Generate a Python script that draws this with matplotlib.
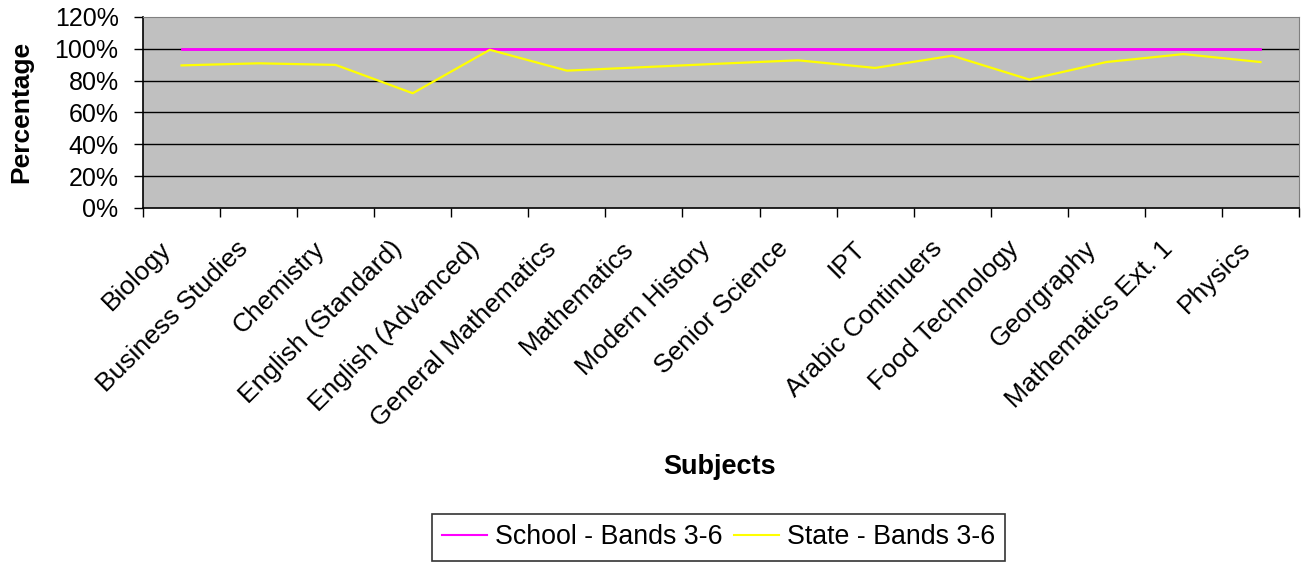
import matplotlib
matplotlib.use("Agg")
import matplotlib.pyplot as plt
from matplotlib.ticker import PercentFormatter
from matplotlib.transforms import ScaledTranslation

plt.rcParams['font.family'] = ['Liberation Sans', 'DejaVu Sans']

subjects = ["Biology", "Business Studies", "Chemistry", "English (Standard)",
            "English (Advanced)", "General Mathematics", "Mathematics", "Modern History",
            "Senior Science", "IPT", "Arabic Continuers", "Food Technology",
            "Georgraphy", "Mathematics Ext. 1", "Physics"]
school = [100, 100, 100, 100, 100, 100, 100, 100, 100, 100, 100, 100, 100, 100, 100]
state = [89.6, 90.9, 89.9, 72.1, 99.4, 86.3, 88.5, 90.7, 92.8, 88.0, 95.7, 80.7, 91.7, 96.7, 91.7]
yticks = [0, 20, 40, 60, 80, 100, 120]

W, H = 1306, 563
fig = plt.figure(figsize=(W/100, H/100), dpi=100)
ax = fig.add_axes([143/W, 1-208/H, (1299-143)/W, (208-17)/H])
ax.set_facecolor('#C0C0C0')

x = list(range(len(subjects)))
ax.plot(x, school, color='#FF00FF', lw=2, label='School - Bands 3-6', zorder=3)
ax.plot(x, state, color='#FFFF00', lw=1.6, label='State - Bands 3-6', zorder=3)

ax.set_xlim(-0.5, len(subjects)-0.5)
ax.set_ylim(0, 120)
ax.set_yticks(yticks)
ax.yaxis.set_major_formatter(PercentFormatter(decimals=0))
for y in yticks[1:-1]:
    ax.axhline(y, color='black', lw=1, zorder=1)

ax.set_xticks([i + 0.5 for i in range(-1, len(subjects))])
ax.set_xticklabels([])
ax.tick_params(axis='x', which='major', length=6.8, width=1, color='black', direction='out')
ax.tick_params(axis='y', length=6.8, width=1, direction='out', labelsize=18, pad=10.8)

# category labels, rotated 45 degrees, anchored below each category position
lab_tr = ax.get_xaxis_transform() + ScaledTranslation(-14/100, -37/100, fig.dpi_scale_trans)
for i, name in zip(x, subjects):
    ax.text(i, 0, name, transform=lab_tr, rotation=45, ha='right', va='center',
            rotation_mode='anchor', fontsize=19, clip_on=False)

for s in ['top', 'right']:
    ax.spines[s].set_color('#808080')
for s in ['left', 'bottom']:
    ax.spines[s].set_color('black')
    ax.spines[s].set_linewidth(1.2)

fig.text(21/W, 1-112/H, 'Percentage', rotation=90, ha='center', va='center',
         fontsize=19, fontweight='bold')
fig.text(720/W, 1-467/H, 'Subjects', ha='center', va='center',
         fontsize=19.5, fontweight='bold')

leg = fig.legend(loc='center', bbox_to_anchor=(718.5/W, 1-537.5/H), ncol=2,
                 fontsize=19.3, frameon=True, fancybox=False, edgecolor='black',
                 handlelength=1.67, handletextpad=0.3, columnspacing=0.45,
                 borderpad=0.38)
leg.get_frame().set_linewidth(1.2)
for h in leg.get_lines():
    h.set_linewidth(1.5)

fig.savefig('out.png', dpi=100, facecolor='white')
